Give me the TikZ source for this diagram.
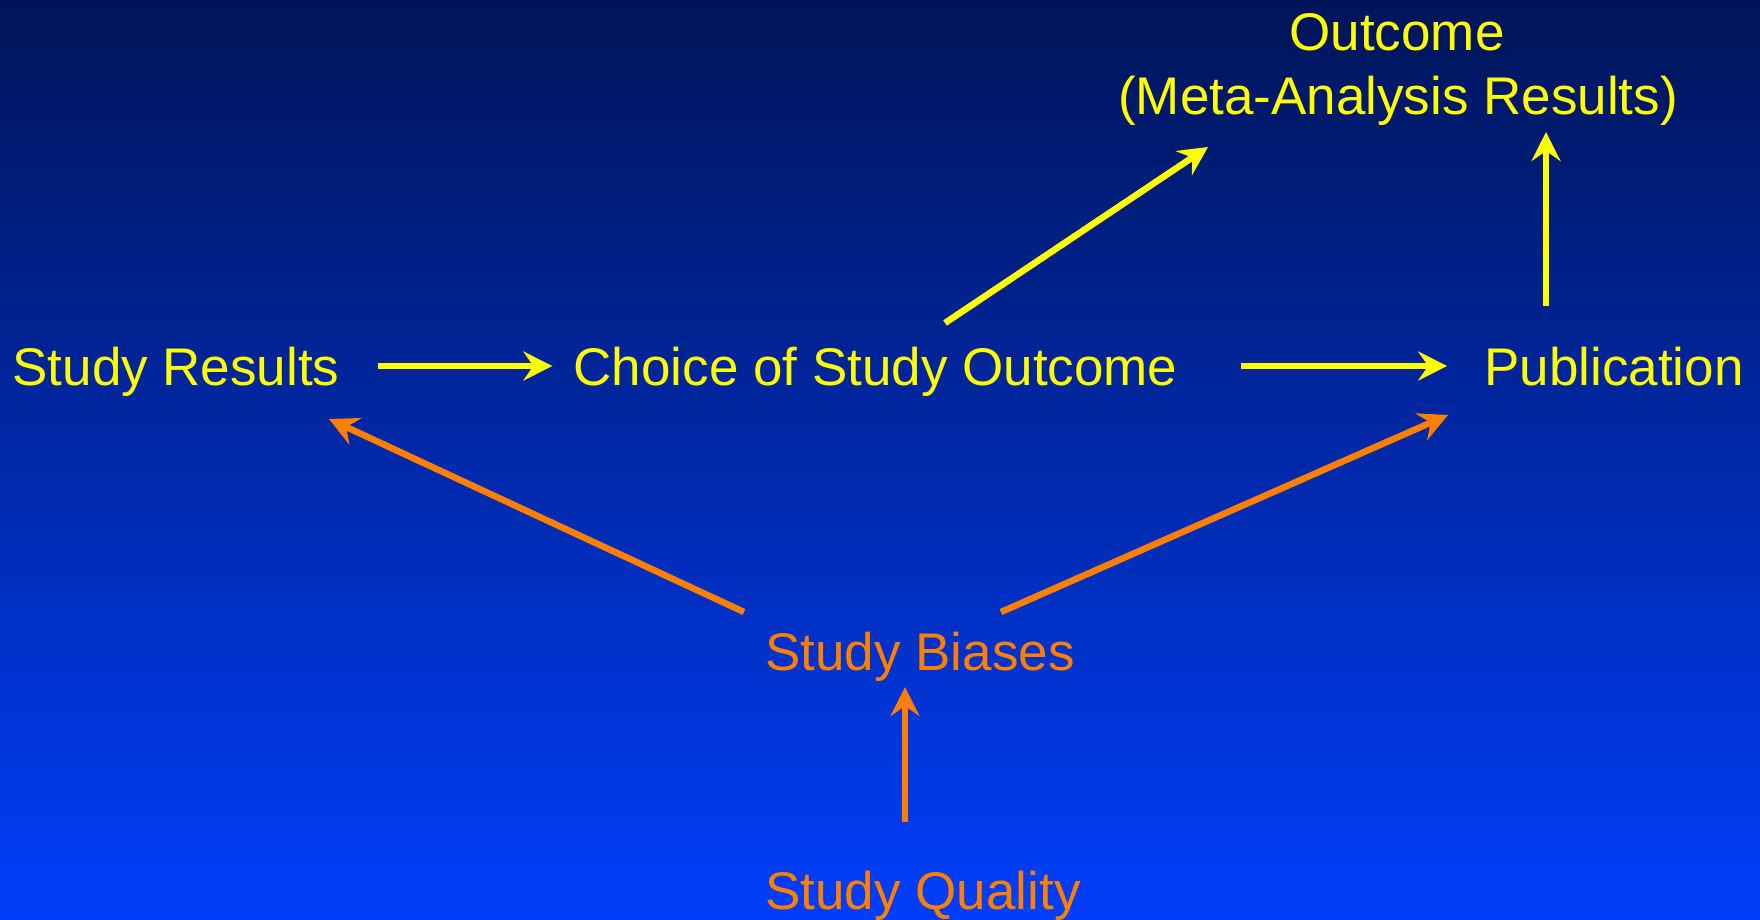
\documentclass[tikz,border=0pt]{standalone}
\usepackage{fontspec}
\setmainfont{Liberation Sans}
\usetikzlibrary{arrows.meta,calc}

\definecolor{bgtop}{RGB}{0,20,88}
\definecolor{bgbottom}{RGB}{0,62,250}
\definecolor{labyellow}{RGB}{255,255,0}
\definecolor{laborange}{RGB}{255,128,0}

\tikzset{
  lbl/.style={inner sep=0pt, text height=38pt, text depth=0pt,
    font=\fontsize{53pt}{64pt}\selectfont},
  ylbl/.style={lbl, text=labyellow},
  olbl/.style={lbl, text=laborange},
  link/.style={line width=6.5pt,
    -{Stealth[length=29pt,width=29pt,inset=10pt]}},
  ylink/.style={link, draw=labyellow},
  olink/.style={link, draw=laborange},
}

\begin{document}
\begin{tikzpicture}[x=1pt,y=-1pt]
  % backdrop
  \shade[top color=bgtop, bottom color=bgbottom] (0,0) rectangle (1760,919);
  \useasboundingbox (0,0) rectangle (1760,919);

  % labels
  \node[ylbl] (outcome) at (1397,31) {Outcome};
  \node[ylbl] (meta)    at (1398,95) {(Meta-Analysis Results)};
  \node[ylbl] (sr)      at (176,366) {Study Results};
  \node[ylbl] (choice)  at (875.5,366) {Choice of Study Outcome};
  \node[ylbl] (pub)     at (1614,366) {Publication};
  \node[olbl] (biases)  at (920,651) {Study Biases};
  \node[olbl] (quality) at (923,890) {Study Quality};

  % main path
  \draw[ylink] ($(sr.east)+(38,0)$) -- ($(choice.west)+(-21,0)$);
  \draw[ylink] ($(choice.east)+(63,0)$) -- ($(pub.west)+(-37,0)$);
  \draw[ylink] ($(choice)+(69.5,-43)$) -- ($(meta)+(-190,52)$);
  \draw[ylink] ($(pub)+(-68,-60)$) -- ($(meta)+(148,37)$);

  % bias influences
  \draw[olink] ($(biases)+(-176,-39)$) -- ($(sr)+(153,53)$);
  \draw[olink] ($(biases)+(81,-39)$) -- ($(pub)+(-166,49)$);
  \draw[olink] ($(quality)+(-18,-68)$) -- ($(biases)+(-15,36)$);
\end{tikzpicture}
\end{document}
